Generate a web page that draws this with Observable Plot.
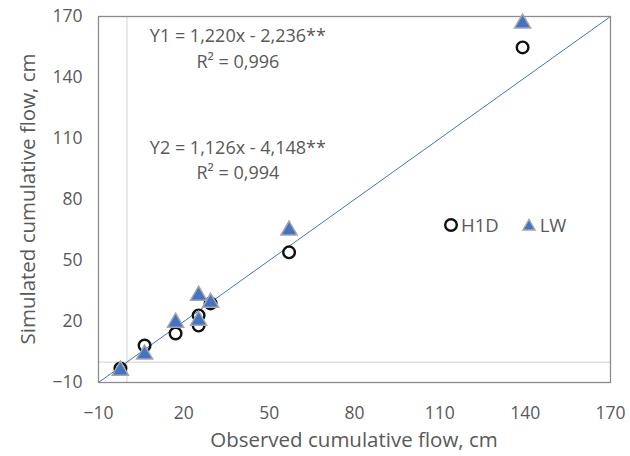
<!DOCTYPE html>
<html><head><meta charset="utf-8">
<script src="https://cdn.jsdelivr.net/npm/d3@7"></script>
<script src="https://cdn.jsdelivr.net/npm/@observablehq/plot@0.6"></script>
<style>
html,body{margin:0;padding:0;background:#fff;}
#wrap{position:relative;width:630px;height:456px;font-family:"Open Sans",sans-serif;color:#595959;}
#legend{position:absolute;left:443px;top:212px;font-size:18.5px;display:flex;align-items:center;}
#legend span{display:inline-flex;align-items:center;margin-right:22px;}
#xlab{position:absolute;left:98px;width:512px;top:425px;text-align:center;font-size:20.5px;white-space:nowrap;}
#ylab{position:absolute;left:27px;top:199px;width:0;height:0;}
#ylab div{position:absolute;transform:translate(-50%,-50%) rotate(-90deg);font-size:20.5px;white-space:nowrap;}
</style></head>
<body><div id="wrap"><div id="legend"></div><div id="xlab"></div><div id="ylab"><div></div></div></div>
<script>
const observed = [-2.3, 6.2, 17.1, 25.2, 25.2, 29.4, 57.0, 139.1];
const h1d = [-3.1, 8.2, 14.1, 23.0, 18.0, 28.9, 54.0, 154.8];
const lw  = [-4.1, 3.8, 19.5, 32.8, 20.5, 29.3, 64.8, 166.6];
const ticks = [-10, 20, 50, 80, 110, 140, 170];
const domain = [-10, 170];
const xTitle = "Observed cumulative flow, cm";
const yTitle = "Simulated cumulative flow, cm";
const seriesNames = ["H1D", "LW"];
const equations = [
  {x: 39, y: 160.3, text: "Y1 = 1,220x - 2,236**"},
  {x: 39, y: 147.7, text: "R² = 0,996"},
  {x: 39, y: 105.3, text: "Y2 = 1,126x - 4,148**"},
  {x: 39, y: 93.0, text: "R² = 0,994"}
];
const h1dData = observed.map((x,i)=>({x, y:h1d[i]}));
const lwData = observed.map((x,i)=>({x, y:lw[i]}));
const blue = "#4472C4";
const txt = "#595959";

const chart = Plot.plot({
  width: 630, height: 456,
  marginLeft: 98, marginRight: 20, marginTop: 16, marginBottom: 74,
  style: {fontFamily: "'Open Sans', sans-serif", fontSize: "17.5px", color: txt, background: "#fff"},
  x: {domain, ticks, tickSize: 0, tickPadding: 24, label: null},
  y: {domain, ticks, tickSize: 0, tickPadding: 16, label: null},
  marks: [
    Plot.ruleX([0], {stroke: "#d9d9d9", strokeWidth: 1.2}),
    Plot.ruleY([0], {stroke: "#d9d9d9", strokeWidth: 1.2}),
    Plot.line([{x:-10,y:-10},{x:170,y:170}], {x:"x", y:"y", stroke: blue, strokeWidth: 1}),
    Plot.frame({stroke: "#8c8c8c", strokeWidth: 1.3}),
    Plot.dot(h1dData, {x:"x", y:"y", r:5.8, stroke:"#111", strokeWidth:2.4, fill:"none"}),
    Plot.dot(lwData, {x:"x", y:"y", symbol:"triangle", r:6, fill: blue, stroke:"#a6a6a6", strokeWidth:1.5}),
    Plot.text(equations, {x:"x", y:"y", text:"text", fontSize: 18, fill: txt, textAnchor:"middle"})
  ]
});
document.getElementById("wrap").prepend(chart);
document.getElementById("xlab").textContent = xTitle;
document.querySelector("#ylab div").textContent = yTitle;

const leg = document.getElementById("legend");
leg.innerHTML = `<span><svg width="16" height="16" style="margin-right:2px"><circle cx="8" cy="8" r="5.8" fill="none" stroke="#111" stroke-width="2.4"/></svg>${seriesNames[0]}</span>` +
  `<span><svg width="16" height="16" style="margin-right:3px"><path d="M8,2.5L14,13H2Z" fill="${blue}" stroke="#a6a6a6" stroke-width="1.5"/></svg>${seriesNames[1]}</span>`;
</script></body></html>
